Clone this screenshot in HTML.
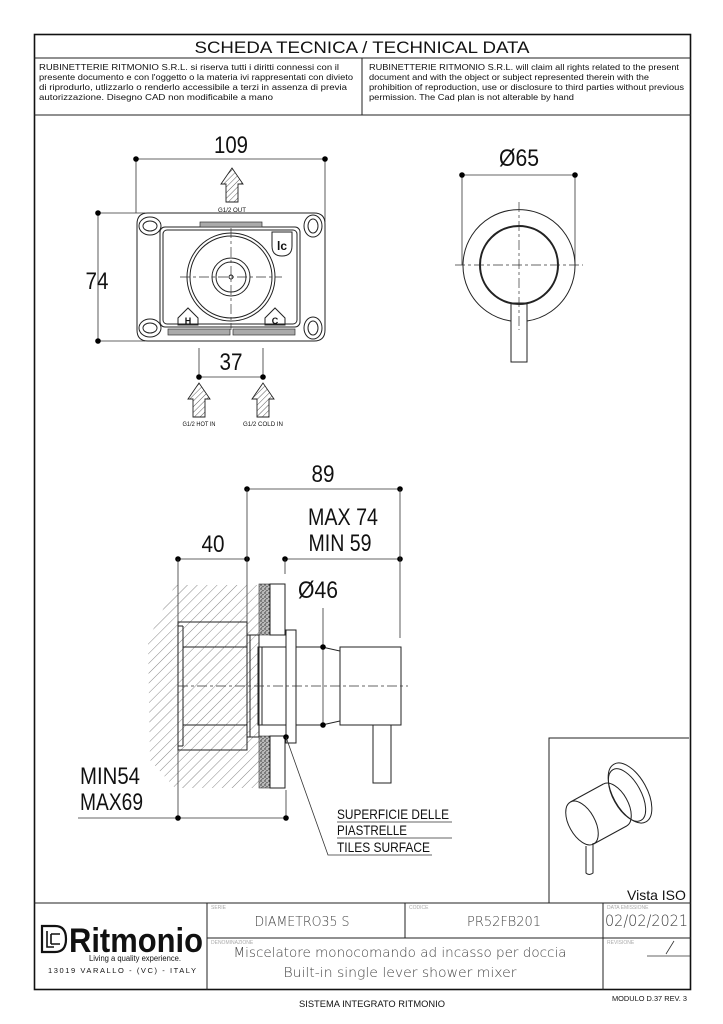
<!DOCTYPE html>
<html><head><meta charset="utf-8"><style>
html,body{margin:0;padding:0;background:#fff}
svg{display:block}
text{font-family:"Liberation Sans Narrow","Liberation Sans",sans-serif;fill:#111}
.c{font-family:"DejaVu Sans","Liberation Sans",sans-serif;fill:#444;font-weight:200}
.s{fill:none;stroke:#222;stroke-width:1}
.t{fill:none;stroke:#222;stroke-width:2}
.d{fill:none;stroke:#333;stroke-width:0.8}
.cl{fill:none;stroke:#333;stroke-width:0.7;stroke-dasharray:10 3 3 3}
.lbl{font-family:"Liberation Sans",sans-serif;fill:#aaa;font-size:5px}
</style></head><body>
<svg width="723" height="1024" viewBox="0 0 723 1024" xmlns="http://www.w3.org/2000/svg">
<defs>
<pattern id="h" width="7" height="7" patternUnits="userSpaceOnUse" patternTransform="rotate(45)">
<line x1="0" y1="0" x2="0" y2="7" stroke="#555" stroke-width="0.7"/></pattern>
<pattern id="ah" width="4" height="4" patternUnits="userSpaceOnUse" patternTransform="rotate(45)">
<line x1="0" y1="0" x2="0" y2="4" stroke="#333" stroke-width="0.8"/></pattern>
<pattern id="sp" width="4" height="4" patternUnits="userSpaceOnUse">
<rect width="4" height="4" fill="#bbb"/><circle cx="1" cy="1" r="0.7" fill="#222"/><circle cx="3" cy="2.5" r="0.6" fill="#333"/><circle cx="1.8" cy="3.5" r="0.5" fill="#444"/></pattern>
</defs>
<rect x="34.5" y="34.5" width="656" height="955" fill="none" stroke="#111" stroke-width="1.6"/>
<line x1="34" y1="58" x2="691" y2="58" class="s"/>
<line x1="34" y1="115" x2="691" y2="115" class="s"/>
<line x1="362" y1="58" x2="362" y2="115" class="s"/>
<text x="362" y="53" font-size="17" text-anchor="middle" style="font-family:'Liberation Sans',sans-serif" textLength="335" lengthAdjust="spacingAndGlyphs">SCHEDA TECNICA / TECHNICAL DATA</text>
<g font-size="8.6">
<text x="39" y="70" textLength="300" lengthAdjust="spacingAndGlyphs">RUBINETTERIE RITMONIO S.R.L. si riserva tutti i diritti connessi con il</text>
<text x="39" y="80" textLength="314" lengthAdjust="spacingAndGlyphs">presente documento e con l'oggetto o la materia ivi rappresentati con divieto</text>
<text x="39" y="90" textLength="308" lengthAdjust="spacingAndGlyphs">di riprodurlo, utlizzarlo o renderlo accessibile a terzi in assenza di previa</text>
<text x="39" y="100" textLength="234" lengthAdjust="spacingAndGlyphs">autorizzazione. Disegno CAD non modificabile a mano</text>
<text x="369" y="70" textLength="310" lengthAdjust="spacingAndGlyphs">RUBINETTERIE RITMONIO S.R.L. will claim all rights related to the present</text>
<text x="369" y="80" textLength="280" lengthAdjust="spacingAndGlyphs">document and with the object or subject represented therein with the</text>
<text x="369" y="90" textLength="315" lengthAdjust="spacingAndGlyphs">prohibition  of reproduction, use or disclosure to third parties without previous</text>
<text x="369" y="100" textLength="205" lengthAdjust="spacingAndGlyphs">permission.  The Cad plan is not alterable by hand</text>
</g>

<g>
<line x1="136" y1="159" x2="325" y2="159" class="d"/>
<line x1="136" y1="159" x2="136" y2="213" class="d"/>
<line x1="325" y1="159" x2="325" y2="222" class="d"/>
<circle cx="136" cy="159" r="2.8"/><circle cx="325" cy="159" r="2.8"/>
<text x="231" y="153" font-size="24" text-anchor="middle" textLength="34" lengthAdjust="spacingAndGlyphs">109</text>
<line x1="98" y1="213" x2="98" y2="341" class="d"/>
<line x1="98" y1="213" x2="145" y2="213" class="d"/>
<line x1="98" y1="341" x2="145" y2="341" class="d"/>
<circle cx="98" cy="213" r="2.8"/><circle cx="98" cy="341" r="2.8"/>
<text x="97" y="289" font-size="24" text-anchor="middle" textLength="23" lengthAdjust="spacingAndGlyphs">74</text>
<path d="M226,202 V184 H221 L232,168 L243,184 H238 V202 Z" fill="url(#ah)" stroke="#222" stroke-width="0.9"/>
<text x="232" y="212" font-size="6.5" text-anchor="middle" textLength="28" lengthAdjust="spacingAndGlyphs">G1/2 OUT</text>
<path d="M148,213 H314 Q325,213 325,224 V330 Q325,341 314,341 H148 Q137,341 137,330 V224 Q137,213 148,213 Z" class="s" stroke-width="1.1"/>
<rect x="160" y="227" width="140" height="100" rx="5" class="s"/>
<rect x="163" y="230" width="134" height="94" rx="4" class="s" stroke="#777" stroke-width="0.6"/>
<ellipse cx="150" cy="226" rx="7" ry="5" class="s"/><ellipse cx="150" cy="226" rx="11" ry="9" class="s" stroke-width="0.6"/>
<ellipse cx="313" cy="226" rx="5" ry="7" class="s"/><ellipse cx="313" cy="226" rx="9" ry="11" class="s" stroke-width="0.6"/>
<ellipse cx="150" cy="328" rx="7" ry="5" class="s"/><ellipse cx="150" cy="328" rx="11" ry="9" class="s" stroke-width="0.6"/>
<ellipse cx="313" cy="328" rx="5" ry="7" class="s"/><ellipse cx="313" cy="328" rx="9" ry="11" class="s" stroke-width="0.6"/>
<rect x="200" y="222" width="62" height="5" fill="#aaa" stroke="#333" stroke-width="0.7"/>
<rect x="168" y="329" width="62" height="6" fill="#aaa" stroke="#333" stroke-width="0.7"/>
<rect x="233" y="329" width="62" height="6" fill="#aaa" stroke="#333" stroke-width="0.7"/>
<circle cx="231" cy="277" r="44" class="s" stroke-width="1.4"/>
<circle cx="231" cy="277" r="41" class="s" stroke-width="0.6"/>
<circle cx="231" cy="277" r="19" class="s" stroke-width="1.2"/>
<circle cx="231" cy="277" r="15" class="s" stroke-width="0.6"/>
<circle cx="231" cy="277" r="2" class="s" stroke-width="0.6"/>
<line x1="180" y1="277" x2="282" y2="277" class="cl"/>
<line x1="231" y1="228" x2="231" y2="330" class="cl"/>
<path d="M272,232 H292 V246 Q292,256 282,256 Q272,256 272,246 Z" class="s"/>
<text x="282" y="250" font-size="12" text-anchor="middle" font-weight="bold" fill="#555">lc</text>
<path d="M178,325 L178,318 L188,308 L198,318 L198,325 Z" class="s"/>
<text x="188" y="324" font-size="9" text-anchor="middle" font-weight="bold" fill="#777">H</text>
<path d="M265,325 L265,318 L275,308 L285,318 L285,325 Z" class="s"/>
<text x="275" y="324" font-size="9" text-anchor="middle" font-weight="bold" fill="#777">C</text>
<line x1="199" y1="348" x2="199" y2="377" class="d"/>
<line x1="263" y1="348" x2="263" y2="377" class="d"/>
<line x1="199" y1="377" x2="263" y2="377" class="d"/>
<circle cx="199" cy="377" r="2.8"/><circle cx="263" cy="377" r="2.8"/>
<text x="231" y="370" font-size="24" text-anchor="middle" textLength="23" lengthAdjust="spacingAndGlyphs">37</text>
<path d="M193,417 V399 H188 L199,383 L210,399 H205 V417 Z" fill="url(#ah)" stroke="#222" stroke-width="0.9"/>
<path d="M257,417 V399 H252 L263,383 L274,399 H269 V417 Z" fill="url(#ah)" stroke="#222" stroke-width="0.9"/>
<text x="199" y="426" font-size="6.5" text-anchor="middle" textLength="33" lengthAdjust="spacingAndGlyphs">G1/2 HOT IN</text>
<text x="263" y="426" font-size="6.5" text-anchor="middle" textLength="40" lengthAdjust="spacingAndGlyphs">G1/2 COLD IN</text>
</g>

<g>
<line x1="462" y1="175" x2="575" y2="175" class="d"/>
<line x1="462" y1="175" x2="462" y2="265" class="d"/>
<line x1="575" y1="175" x2="575" y2="265" class="d"/>
<circle cx="462" cy="175" r="2.8"/><circle cx="575" cy="175" r="2.8"/>
<text x="519" y="166" font-size="24" text-anchor="middle" textLength="40" lengthAdjust="spacingAndGlyphs">Ø65</text>
<path d="M511,321 A56,56 0 1 1 527,321" class="s"/>
<circle cx="519" cy="265" r="39" class="t" stroke-width="2.4"/>
<rect x="511" y="303" width="16" height="59" fill="#fff" class="s"/>
<line x1="455" y1="265" x2="583" y2="265" class="cl"/>
<line x1="519" y1="202" x2="519" y2="330" class="cl"/>
</g>

<g>
<line x1="247" y1="489" x2="400" y2="489" class="d"/>
<circle cx="247" cy="489" r="2.8"/><circle cx="400" cy="489" r="2.8"/>
<text x="323" y="482" font-size="24" text-anchor="middle" textLength="23" lengthAdjust="spacingAndGlyphs">89</text>
<text x="343" y="525" font-size="24" text-anchor="middle" textLength="70" lengthAdjust="spacingAndGlyphs">MAX 74</text>
<text x="340" y="551" font-size="24" text-anchor="middle" textLength="63" lengthAdjust="spacingAndGlyphs">MIN 59</text>
<line x1="178" y1="559" x2="247" y2="559" class="d"/>
<circle cx="178" cy="559" r="2.8"/><circle cx="247" cy="559" r="2.8"/>
<text x="213" y="552" font-size="24" text-anchor="middle" textLength="23" lengthAdjust="spacingAndGlyphs">40</text>
<line x1="285" y1="559" x2="400" y2="559" class="d"/>
<circle cx="285" cy="559" r="2.8"/><circle cx="400" cy="559" r="2.8"/>
<line x1="285" y1="559" x2="285" y2="574" class="d"/>
<line x1="400" y1="489" x2="400" y2="638" class="d"/>
<line x1="247" y1="489" x2="247" y2="622" class="d"/>
<line x1="178" y1="559" x2="178" y2="818" class="d"/>
<path d="M175,585 H259 V788 H175 L150,760 L148,640 Z" fill="url(#h)"/>
<rect x="259" y="584" width="11" height="51" fill="url(#sp)" stroke="#333" stroke-width="0.6"/>
<rect x="259" y="736" width="11" height="52" fill="url(#sp)" stroke="#333" stroke-width="0.6"/>
<rect x="270" y="584" width="15" height="51" fill="#fff" class="s"/>
<rect x="270" y="736" width="15" height="52" fill="#fff" class="s"/>
<rect x="178" y="622" width="69" height="128" fill="#fff" class="s"/>
<line x1="183" y1="626" x2="183" y2="746" class="s"/>
<line x1="178" y1="626" x2="183" y2="626" class="s"/>
<line x1="178" y1="746" x2="183" y2="746" class="s"/>
<line x1="183" y1="647" x2="247" y2="647" class="s"/>
<line x1="183" y1="725" x2="247" y2="725" class="s"/>
<rect x="247" y="635" width="12" height="102" fill="#fff" class="s"/>
<line x1="250" y1="635" x2="250" y2="737" class="s"/>
<rect x="258" y="647" width="28" height="78" fill="#fff" class="s"/>
<line x1="262" y1="647" x2="262" y2="725" class="s"/>
<rect x="286" y="630" width="10" height="113" fill="#fff" class="s"/>
<path d="M296,647 H322 L340,651 V721 L322,725 H296" fill="#fff" class="s"/>
<rect x="340" y="647" width="61" height="78" fill="#fff" class="s"/>
<rect x="373" y="725" width="18" height="58" fill="#fff" class="s"/>
<line x1="178" y1="686" x2="408" y2="686" class="cl"/>
<line x1="323" y1="608" x2="323" y2="725" class="d"/>
<circle cx="323" cy="647" r="2.8"/><circle cx="323" cy="725" r="2.8"/>
<text x="318" y="598" font-size="24" text-anchor="middle" textLength="40" lengthAdjust="spacingAndGlyphs">Ø46</text>
<line x1="286" y1="790" x2="286" y2="818" class="d"/>
<line x1="78" y1="818" x2="286" y2="818" class="d"/>
<circle cx="178" cy="818" r="2.8"/><circle cx="286" cy="818" r="2.8"/>
<text x="80" y="784" font-size="24" textLength="60" lengthAdjust="spacingAndGlyphs">MIN54</text>
<text x="80" y="810" font-size="24" textLength="63" lengthAdjust="spacingAndGlyphs">MAX69</text>
<circle cx="286" cy="737" r="2.8"/>
<polyline points="286,737 328,855 432,855" class="d"/>
<text x="337" y="819" font-size="14" textLength="112" lengthAdjust="spacingAndGlyphs">SUPERFICIE DELLE</text>
<line x1="337" y1="822" x2="452" y2="822" class="d"/>
<text x="337" y="835" font-size="14" textLength="70" lengthAdjust="spacingAndGlyphs">PIASTRELLE</text>
<line x1="337" y1="838" x2="452" y2="838" class="d"/>
<text x="337" y="852" font-size="14" textLength="93" lengthAdjust="spacingAndGlyphs">TILES SURFACE</text>
</g>

<!-- ISO -->
<g>
<path d="M549,903 V738 H689" class="s"/>
<ellipse cx="630" cy="793" rx="17" ry="33" transform="rotate(-29 630 793)" fill="#fff" class="s"/>
<ellipse cx="627" cy="795" rx="14" ry="29" transform="rotate(-29 627 795)" class="s"/>
<ellipse cx="615" cy="805" rx="13" ry="24" transform="rotate(-29 615 805)" fill="#fff" class="s"/>
<path d="M570.4,802 L603.4,784 L626.6,826 L593.6,844 Z" fill="#fff"/>
<line x1="570.4" y1="802" x2="603.4" y2="784" class="s"/>
<line x1="593.6" y1="844" x2="626.6" y2="826" class="s"/>
<ellipse cx="582" cy="823" rx="13" ry="24" transform="rotate(-29 582 823)" fill="#fff" class="s"/>
<path d="M586,846 V873 Q589,876 593,873 V843" fill="#fff" class="s"/>
<text x="627" y="900" font-size="14" style="font-family:'Liberation Sans',sans-serif">Vista ISO</text>
</g>

<line x1="34" y1="903" x2="691" y2="903" class="s"/>
<line x1="207" y1="903" x2="207" y2="990" class="s"/>
<line x1="405" y1="903" x2="405" y2="938" class="s"/>
<line x1="603" y1="903" x2="603" y2="990" class="s"/>
<line x1="207" y1="938" x2="691" y2="938" class="s"/>
<text x="211" y="909" class="lbl">SERIE</text>
<text x="409" y="909" class="lbl">CODICE</text>
<text x="607" y="909" class="lbl">DATA EMISSIONE</text>
<text x="211" y="944" class="lbl">DENOMINAZIONE</text>
<text x="607" y="944" class="lbl">REVISIONE</text>
<text x="302" y="926" font-size="13" text-anchor="middle" class="c" textLength="95" lengthAdjust="spacingAndGlyphs">DIAMETRO35 S</text>
<text x="504" y="926" font-size="13" text-anchor="middle" class="c" textLength="74" lengthAdjust="spacingAndGlyphs">PR52FB201</text>
<text x="605" y="926" font-size="16" class="c" textLength="83" lengthAdjust="spacingAndGlyphs">02/02/2021</text>
<text x="400" y="957" font-size="13.5" text-anchor="middle" class="c" textLength="333" lengthAdjust="spacingAndGlyphs">Miscelatore monocomando ad incasso per doccia</text>
<text x="400" y="977" font-size="13.5" text-anchor="middle" class="c" textLength="233" lengthAdjust="spacingAndGlyphs">Built-in single lever shower mixer</text>
<line x1="647" y1="956" x2="690" y2="956" class="d"/>
<line x1="666" y1="954" x2="674" y2="941" class="d"/>
<path d="M42,926 H55 Q66,926 66,939 Q66,952 55,952 H42 Z" fill="none" stroke="#111" stroke-width="2.2"/>
<path d="M47,931 V947 H54 M51,934 V944 M51,934 H60 M51,944 H60" fill="none" stroke="#111" stroke-width="1.6"/>
<text x="69" y="952" font-size="34" font-weight="bold" style="font-family:'Liberation Sans',sans-serif" textLength="134" lengthAdjust="spacingAndGlyphs">Ritmonio</text>
<text x="89" y="961" font-size="8" style="font-family:'Liberation Sans',sans-serif" textLength="92" lengthAdjust="spacingAndGlyphs">Living a quality experience.</text>
<text x="48" y="973" font-size="7.5" style="font-family:'Liberation Sans',sans-serif" textLength="148" lengthAdjust="spacing">13019 VARALLO - (VC) - ITALY</text>
<text x="372" y="1007" font-size="9" text-anchor="middle" style="font-family:'Liberation Sans',sans-serif" textLength="146" lengthAdjust="spacingAndGlyphs">SISTEMA INTEGRATO RITMONIO</text>
<text x="612" y="1001" font-size="7.5" style="font-family:'Liberation Sans',sans-serif" textLength="75" lengthAdjust="spacingAndGlyphs">MODULO D.37 REV. 3</text>
</svg>
</body></html>
